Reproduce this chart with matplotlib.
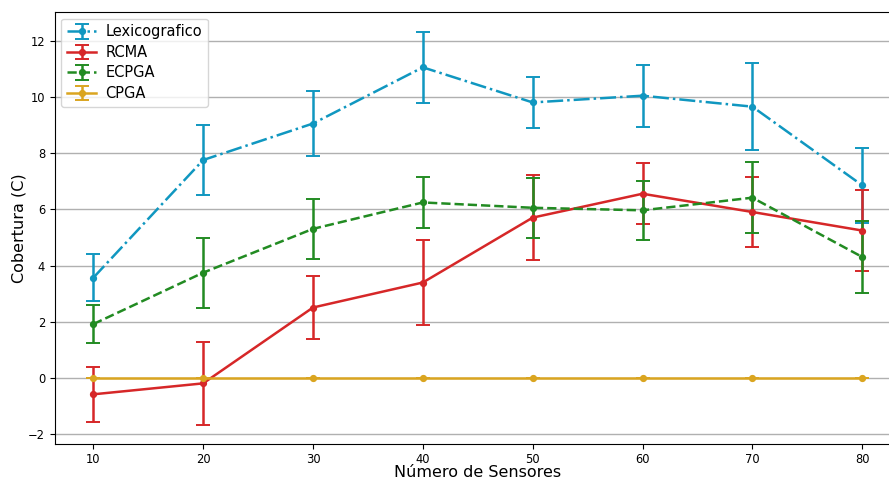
import matplotlib
matplotlib.use("Agg")
import matplotlib.pyplot as plt

sensores = [10, 20, 30, 40, 50, 60, 70, 80]

lexico_mean = [3.57, 7.76, 9.06, 11.06, 9.81, 10.05, 9.66, 6.86]
lexico_err = [0.83, 1.25, 1.16, 1.27, 0.91, 1.11, 1.56, 1.33]

rcma_mean = [-0.58, -0.19, 2.51, 3.40, 5.71, 6.56, 5.91, 5.25]
rcma_err = [0.98, 1.47, 1.13, 1.50, 1.52, 1.09, 1.24, 1.43]

ecpga_mean = [1.92, 3.75, 5.31, 6.25, 6.06, 5.97, 6.42, 4.31]
ecpga_err = [0.67, 1.25, 1.07, 0.91, 1.07, 1.05, 1.26, 1.29]

cpga_mean = [0, 0, 0, 0, 0, 0, 0, 0]
cpga_err = [0, 0, 0, 0, 0, 0, 0, 0]

series = [
    ("Lexicografico", lexico_mean, lexico_err, "#1097c0", "-."),
    ("RCMA", rcma_mean, rcma_err, "#d62728", "-"),
    ("ECPGA", ecpga_mean, ecpga_err, "#228b22", "--"),
    ("CPGA", cpga_mean, cpga_err, "#daa520", "-"),
]

fig = plt.figure(figsize=(8.89, 4.82), dpi=100)
ax = fig.add_axes([0.0617, 0.0782, 0.9514, 0.8969])

for name, mean, err, color, ls in series:
    ax.errorbar(sensores, mean, yerr=err, label=name, color=color,
                linestyle=ls, linewidth=1.8, marker="o", markersize=4.2,
                capsize=5, elinewidth=1.8, capthick=1.4)

ax.grid(axis="y", color="#b0b0b0", linewidth=1)
ax.set_axisbelow(True)
ax.set_xlabel("Número de Sensores", fontsize=11.5)
ax.set_ylabel("Cobertura (C)", fontsize=11.5)
ax.xaxis.set_label_coords(0.5, -0.049)
ax.yaxis.set_label_coords(-0.0423, 0.5)
ax.yaxis.label.set_verticalalignment("center")
ax.tick_params(labelsize=8.3)
ax.tick_params(axis="x", pad=2.5)
ax.legend(loc="upper left", fontsize=10.5, labelspacing=0.38,
          borderaxespad=0.45, handlelength=2.0, handletextpad=0.6)

fig.savefig("out.png", dpi=100)
